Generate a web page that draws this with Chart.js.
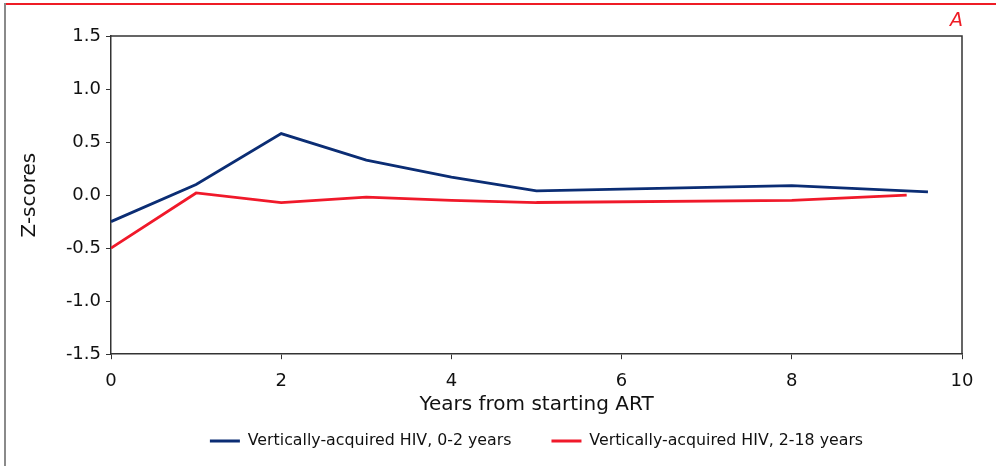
<!DOCTYPE html>
<html>
<head>
<meta charset="utf-8">
<script src="https://cdn.jsdelivr.net/npm/chart.js@4.4.1/dist/chart.umd.min.js"></script>
<style>
  html, body { margin: 0; padding: 0; background: #fff; }
  #wrap { position: relative; width: 996px; height: 466px; overflow: hidden; }
  #c { position: absolute; left: 0; top: 0; }
  #topline { position: absolute; left: 5px; top: 3px; width: 991px; height: 2px; background: #ee1c25; }
  #leftline { position: absolute; left: 4px; top: 3px; width: 2px; height: 463px; background: #8a8a8a; }
  #panel { position: absolute; right: 33px; top: 8px; color: #ee1c25; font: italic 19px "DejaVu Sans", sans-serif; }
</style>
</head>
<body>
<div id="wrap">
  <canvas id="c" width="996" height="466"></canvas>
  <div id="topline"></div>
  <div id="leftline"></div>
  <div id="panel">A</div>
</div>
<script>
// Data
const seriesNames = ["Vertically-acquired HIV, 0-2 years", "Vertically-acquired HIV, 2-18 years"];
const years0to2 = [0, 1, 2, 3, 4, 5, 8, 9.6];
const zscores0to2 = [-0.25, 0.10, 0.58, 0.33, 0.17, 0.04, 0.09, 0.03];
const years2to18 = [0, 1, 2, 3, 4, 5, 8, 9.35];
const zscores2to18 = [-0.50, 0.02, -0.07, -0.02, -0.05, -0.07, -0.05, 0.00];
const yTicks = [-1.5, -1.0, -0.5, 0.0, 0.5, 1.0, 1.5];
const xTicks = [0, 2, 4, 6, 8, 10];

const FONT = '"DejaVu Sans", Verdana, sans-serif';
const toPts = (xs, ys) => xs.map((x, i) => ({ x: x, y: ys[i] }));

const boxPlugin = {
  id: 'box',
  afterDraw(chart) {
    const a = chart.chartArea, ctx = chart.ctx;
    ctx.save();
    ctx.strokeStyle = '#333';
    ctx.lineWidth = 1.5;
    ctx.beginPath();
    ctx.moveTo(a.left, a.top); ctx.lineTo(a.right, a.top); ctx.lineTo(a.right, a.bottom);
    ctx.stroke();
    ctx.restore();
  }
};

new Chart(document.getElementById('c'), {
  type: 'line',
  data: {
    datasets: [
      { label: seriesNames[0], data: toPts(years0to2, zscores0to2), borderColor: '#0b2d74', backgroundColor: '#0b2d74', borderWidth: 2.8, pointRadius: 0, tension: 0 },
      { label: seriesNames[1], data: toPts(years2to18, zscores2to18), borderColor: '#f0192a', backgroundColor: '#f0192a', borderWidth: 2.8, pointRadius: 0, tension: 0 }
    ]
  },
  options: {
    responsive: false,
    animation: false,
    layout: { padding: { top: 36, right: 34, left: 18, bottom: 7 } },
    plugins: {
      legend: {
        position: 'bottom',
        fullSize: false,
        labels: {
          font: { family: FONT, size: 15.8 }, color: '#111', boxWidth: 30, boxHeight: 3, padding: 40,
          generateLabels: chart => Chart.defaults.plugins.legend.labels.generateLabels(chart).map(l => Object.assign(l, { lineWidth: 0 }))
        }
      },
      tooltip: { enabled: false }
    },
    scales: {
      x: {
        type: 'linear', min: 0, max: 10,
        afterBuildTicks: s => { s.ticks = xTicks.map(v => ({ value: v })); },
        afterFit: s => { s.height = 39; },
        ticks: { font: { family: FONT, size: 18 }, color: '#111', padding: 11 },
        grid: { display: true, drawOnChartArea: false, drawTicks: true, tickLength: 5, color: '#333' },
        border: { color: '#333', width: 1.5 },
        title: { display: true, text: 'Years from starting ART', font: { family: FONT, size: 20 }, color: '#111', padding: { top: 0, bottom: -24 } }
      },
      y: {
        type: 'linear', min: -1.5, max: 1.5,
        afterBuildTicks: s => { s.ticks = yTicks.map(v => ({ value: v })); },
        afterFit: s => { s.width = 93; },
        ticks: { font: { family: FONT, size: 18 }, color: '#111', padding: 5, callback: v => v.toFixed(1) },
        grid: { display: true, drawOnChartArea: false, drawTicks: true, tickLength: 5, color: '#333' },
        border: { color: '#333', width: 1.5 },
        title: { display: true, text: 'Z-scores', font: { family: FONT, size: 20 }, color: '#111', padding: 0 }
      }
    }
  },
  plugins: [boxPlugin]
});
</script>
</body>
</html>
